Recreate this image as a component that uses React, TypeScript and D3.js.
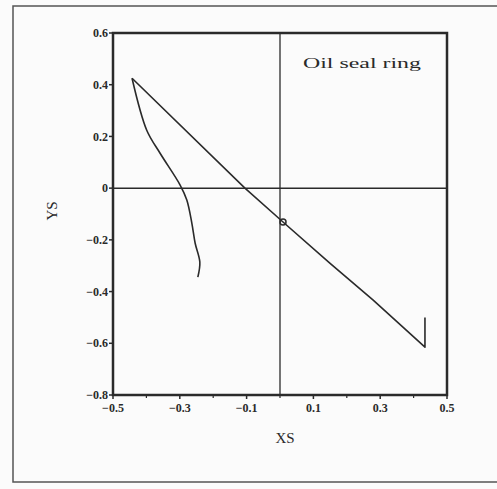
import * as d3 from 'd3';

// trajectory (XS, YS)
const xs = [-0.246, -0.240, -0.254, -0.264, -0.279, -0.299, -0.359, -0.399, -0.443, -0.105, 0.009, 0.150, 0.279, 0.434, 0.434];
const ys = [-0.344, -0.286, -0.213, -0.135, -0.046, 0.012, 0.135, 0.224, 0.425, 0.0, -0.131, -0.291, -0.433, -0.615, -0.500];
const curvedCount = 9; // first points form the smooth arc
const markerPoint = [0.009, -0.131];
const xTicks = [-0.5, -0.3, -0.1, 0.1, 0.3, 0.5];
const xMinor = [-0.4, -0.2, 0, 0.2, 0.4];
const yTicks = [-0.8, -0.6, -0.4, -0.2, 0, 0.2, 0.4, 0.6];
const title = 'Oil seal ring';

export default function App() {
  const W = 497;
  const H = 489;
  const left = 113, right = 447, top = 33, bottom = 395;

  const x = d3.scaleLinear().domain([-0.5, 0.5]).range([left, right]);
  const y = d3.scaleLinear().domain([-0.8, 0.6]).range([bottom, top]);

  const pts: [number, number][] = xs.map((v, i) => [v, ys[i]]);
  const arc = d3.line<[number, number]>()
    .x(d => x(d[0]))
    .y(d => y(d[1]))
    .curve(d3.curveCatmullRom);
  const straight = d3.line<[number, number]>()
    .x(d => x(d[0]))
    .y(d => y(d[1]));

  const fmt = (v: number) => (v === 0 ? '0' : d3.format('.1f')(v));
  const ink = '#2a2a2a';

  return (
    <div style={{ position: 'fixed', left: 0, top: 0 }}>
      <svg width={W} height={H} style={{ display: 'block', background: '#fbfbfb' }}
        fontFamily="'Liberation Serif', 'DejaVu Serif', serif">
        {/* outer frame */}
        <path d={`M${W} 6 H13 V482 H${W}`} fill="none" stroke="#555" strokeWidth={1.5} />

        {/* zero lines */}
        <line x1={x(0)} x2={x(0)} y1={top} y2={bottom} stroke={ink} strokeWidth={1.3} />
        <line x1={left} x2={right} y1={y(0)} y2={y(0)} stroke={ink} strokeWidth={1.5} />

        {/* plot frame */}
        <rect x={left} y={top} width={right - left} height={bottom - top}
          fill="none" stroke={ink} strokeWidth={2.5} />

        {/* y axis ticks + labels */}
        {yTicks.map(t => (
          <g key={'y' + t}>
            <line x1={left - 4} x2={left} y1={y(t)} y2={y(t)} stroke={ink} strokeWidth={1.5} />
            <text x={left - 5} y={y(t)} dy="0.35em" textAnchor="end" fontSize={12}
              fontWeight="bold" fill={ink}>{fmt(t)}</text>
          </g>
        ))}

        {/* x axis ticks + labels */}
        {xTicks.map(t => (
          <g key={'x' + t}>
            <line x1={x(t)} x2={x(t)} y1={bottom} y2={bottom + 4} stroke={ink} strokeWidth={1.5} />
            <text x={x(t)} y={bottom + 17} textAnchor="middle" fontSize={12}
              fontWeight="bold" fill={ink}>{fmt(t)}</text>
          </g>
        ))}
        {xMinor.map(t => (
          <line key={'m' + t} x1={x(t)} x2={x(t)} y1={bottom} y2={bottom + 3}
            stroke={ink} strokeWidth={1.2} />
        ))}

        {/* axis titles */}
        <text x={x(0) + 5} y={443} textAnchor="middle" fontSize={15} fill={ink}>XS</text>
        <text transform={`translate(57, 211) rotate(-90)`} textAnchor="middle" fontSize={15}
          fill={ink}>YS</text>

        {/* annotation */}
        <text x={303} y={68} fontSize={15} fill={ink} textLength={118}
          lengthAdjust="spacingAndGlyphs">{title}</text>

        {/* data */}
        <path d={arc(pts.slice(0, curvedCount)) ?? ''} fill="none" stroke={ink}
          strokeWidth={1.6} strokeLinejoin="round" />
        <path d={straight(pts.slice(curvedCount - 1)) ?? ''} fill="none" stroke={ink}
          strokeWidth={1.6} strokeLinejoin="round" />
        <circle cx={x(markerPoint[0])} cy={y(markerPoint[1])} r={3} fill="none"
          stroke={ink} strokeWidth={1.5} />
      </svg>
    </div>
  );
}
